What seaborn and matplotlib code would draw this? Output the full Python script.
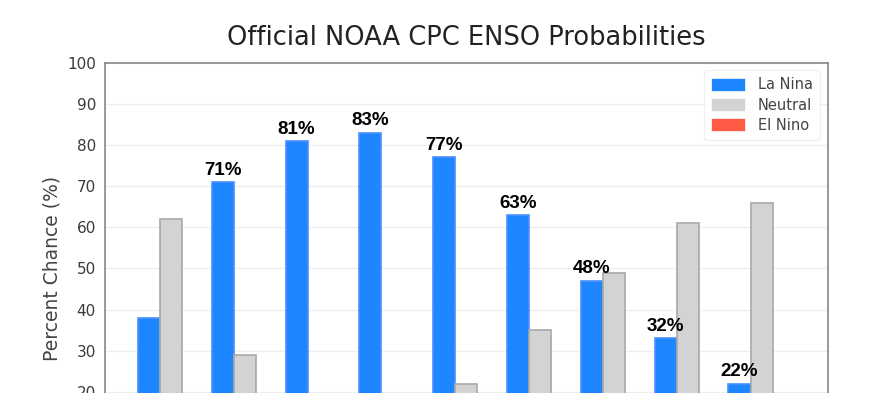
import matplotlib
matplotlib.use("Agg")
import matplotlib.pyplot as plt
import seaborn as sns
import pandas as pd

# seasons (their tick labels fall below the visible crop)
seasons = ["ASO", "SON", "OND", "NDJ", "DJF", "JFM", "FMA", "MAM", "AMJ"]
la_nina = [38, 71, 81, 83, 77, 63, 47, 33, 22]
neutral = [62, 29, 19, 17, 22, 35, 49, 61, 66]
el_nino = [0, 0, 0, 0, 1, 2, 4, 6, 12]
la_nina_labels = ["", "71%", "81%", "83%", "77%", "63%", "48%", "32%", "22%"]

categories = ["La Nina", "Neutral", "El Nino"]
colors = ["#1e87ff", "#d3d3d3", "#ff5a44"]
edges = ["#4a90ff", "#a8a8a8", "#ff5a44"]

df = pd.DataFrame({
    "season": seasons * 3,
    "category": ["La Nina"] * 9 + ["Neutral"] * 9 + ["El Nino"] * 9,
    "value": la_nina + neutral + el_nino,
})

sns.set_style("white")
plt.rcParams["font.family"] = ["DejaVu Sans"]

fig = plt.figure(figsize=(8.9, 3.93), dpi=100)
ax = fig.add_axes([0.118, -0.206, 0.812, 1.046])

sns.barplot(data=df, x="season", y="value", hue="category", hue_order=categories,
            palette=colors, width=0.9, ax=ax, saturation=1, linewidth=1.2)

# edge colours per series
for cont, ec in zip(ax.containers, edges):
    for bar in cont:
        bar.set_edgecolor(ec)

# labels above La Nina bars
for bar, lab in zip(ax.containers[0], la_nina_labels):
    if lab:
        ax.text(bar.get_x() + bar.get_width() / 2, bar.get_height() + 0.8, lab,
                ha="center", va="bottom", fontsize=13.5, fontweight="bold",
                family="Liberation Sans", color="black")

ax.set_ylim(0, 100)
ax.set_xlim(-0.895, 8.895)
ax.set_yticks(range(20, 101, 10))
ax.tick_params(axis="y", labelsize=11, labelcolor="#3a3a3a", length=3, color="#888888")
ax.set_xticklabels([])
ax.tick_params(axis="x", length=0)
ax.yaxis.grid(True, color="#eeeeee", linewidth=1)
ax.set_axisbelow(True)
for s in ax.spines.values():
    s.set_color("#888888")
    s.set_linewidth(1.2)

ax.set_xlabel("")
ax.set_ylabel("Percent Chance (%)", fontsize=13.5, color="#444444", labelpad=4)
ax.set_title("Official NOAA CPC ENSO Probabilities", fontsize=18.5, color="#222222", pad=13)

leg = ax.legend(loc="upper right", fontsize=10.5, frameon=True, handlelength=2.4,
                handleheight=1.1, borderpad=0.5, labelspacing=0.35)
leg.get_frame().set_edgecolor("#eeeeee")
for t in leg.get_texts():
    t.set_color("#444444")

fig.savefig("out.png", dpi=100)
